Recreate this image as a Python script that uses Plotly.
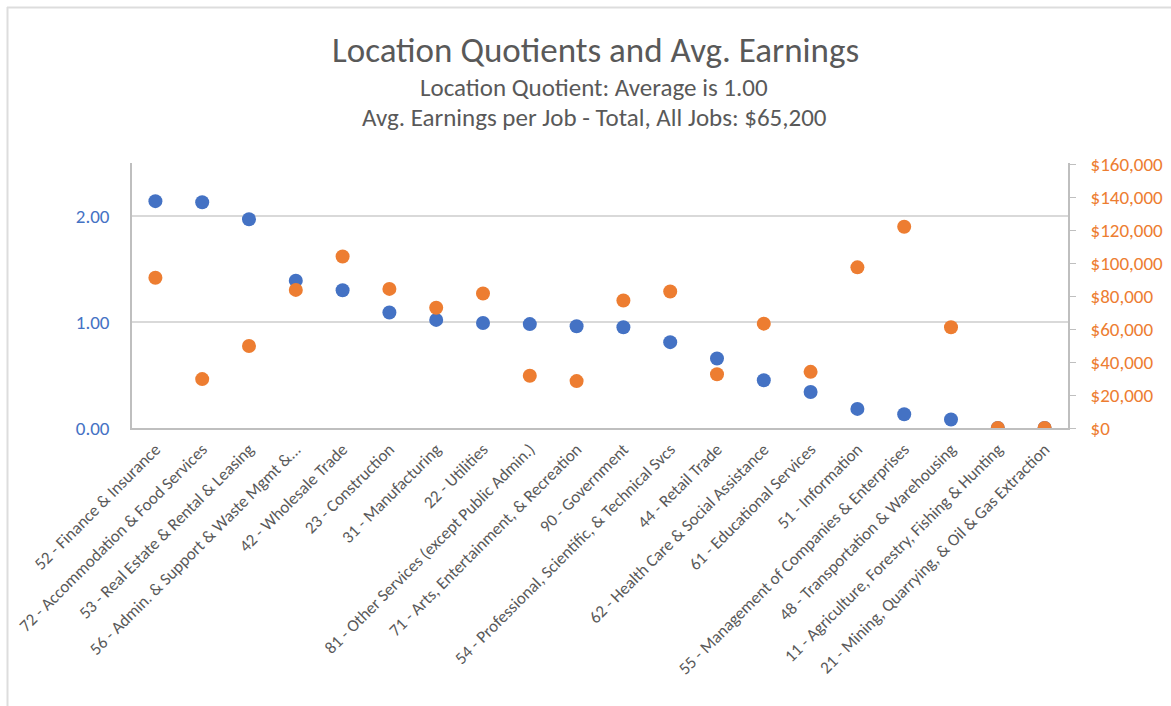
import plotly.graph_objects as go

categories = [
    "52 - Finance & Insurance",
    "72 - Accommodation & Food Services",
    "53 - Real Estate & Rental & Leasing",
    "56 - Admin. & Support & Waste Mgmt &...",
    "42 - Wholesale Trade",
    "23 - Construction",
    "31 - Manufacturing",
    "22 - Utilities",
    "81 - Other Services (except Public Admin.)",
    "71 - Arts, Entertainment, & Recreation",
    "90 - Government",
    "54 - Professional, Scientific, & Technical Svcs",
    "44 - Retail Trade",
    "62 - Health Care & Social Assistance",
    "61 - Educational Services",
    "51 - Information",
    "55 - Management of Companies & Enterprises",
    "48 - Transportation & Warehousing",
    "11 - Agriculture, Forestry, Fishing & Hunting",
    "21 - Mining, Quarrying, & Oil & Gas Extraction",
]
location_quotient = [2.14, 2.13, 1.97, 1.39, 1.30, 1.09, 1.02, 0.99, 0.98, 0.96,
                     0.95, 0.81, 0.655, 0.45, 0.34, 0.18, 0.13, 0.08, 0.0, 0.0]
avg_earnings = [91300, 29700, 49800, 83900, 104200, 84500, 73100, 81700, 31700, 28500,
                77500, 82900, 32700, 63400, 34100, 97600, 122300, 61200, 0, 0]

lq_ticks = [0, 1, 2]
earn_ticks = [0, 20000, 40000, 60000, 80000, 100000, 120000, 140000, 160000]
earn_tick_labels = ["$0", "$20,000", "$40,000", "$60,000", "$80,000",
                    "$100,000", "$120,000", "$140,000", "$160,000"]

title_lines = ["Location Quotients and Avg. Earnings",
               "Location Quotient: Average is 1.00",
               "Avg. Earnings per Job - Total, All Jobs: $65,200"]

BLUE = "#4472C4"
ORANGE = "#ED7D31"
GRAY = "#595959"
FONT = "Carlito, Calibri, Lato, sans-serif"

fig = go.Figure()
fig.add_trace(go.Scatter(x=categories, y=location_quotient, mode="markers",
                         marker=dict(color=BLUE, size=14), name="Location Quotient",
                         yaxis="y"))
fig.add_trace(go.Scatter(x=categories, y=avg_earnings, mode="markers",
                         marker=dict(color=ORANGE, size=14), name="Avg. Earnings",
                         yaxis="y2"))

L, R, T, B = 132, 103, 163, 278
W, H = 1171, 706
pw, ph = W - L - R, H - T - B

def py(pix):
    return (H - B - pix) / ph

def px(pix):
    return (pix - L) / pw

annotations = [
    dict(text=title_lines[0], x=px(595), y=py(50), font=dict(size=35, color=GRAY, family=FONT)),
    dict(text=title_lines[1], x=px(594), y=py(87), font=dict(size=25, color=GRAY, family=FONT)),
    dict(text=title_lines[2], x=px(594), y=py(117), font=dict(size=25, color=GRAY, family=FONT)),
]
for a in annotations:
    a.update(xref="paper", yref="paper", showarrow=False, xanchor="center", yanchor="middle")

fig.update_layout(
    width=W, height=H,
    margin=dict(l=L, r=R, t=T, b=B, autoexpand=False),
    paper_bgcolor="white", plot_bgcolor="white",
    showlegend=False,
    font=dict(family=FONT, color=GRAY),
    annotations=annotations,
    xaxis=dict(
        type="category", tickangle=-45, tickfont=dict(size=17, color=GRAY, family=FONT),
        showgrid=False, showline=True, linecolor="#BFBFBF", linewidth=1.5,
        ticks="", range=[-0.5, len(categories) - 0.5], zeroline=False,
        automargin=False, ticklabelstandoff=3,
    ),
    yaxis=dict(
        range=[0, 2.5], tickvals=lq_ticks, tickformat=".2f",
        tickfont=dict(size=19, color=BLUE, family=FONT),
        showgrid=True, gridcolor="#D9D9D9", gridwidth=1.5,
        showline=True, linecolor="#BFBFBF", linewidth=1.5, zeroline=False,
        ticks="", ticklabelstandoff=17, automargin=False,
    ),
    yaxis2=dict(
        range=[0, 161000], overlaying="y", side="right",
        tickvals=earn_ticks, ticktext=earn_tick_labels,
        tickfont=dict(size=19, color=ORANGE, family=FONT),
        showgrid=False, showline=True, linecolor="#BFBFBF", linewidth=1.5, zeroline=False,
        ticks="outside", ticklen=6, tickcolor="#BFBFBF", ticklabelstandoff=11,
        automargin=False,
    ),
    shapes=[
        dict(type="line", xref="paper", yref="paper", x0=px(7), x1=px(1175), y0=py(7.5), y1=py(7.5),
             line=dict(color="#DDDDDD", width=2)),
        dict(type="line", xref="paper", yref="paper", x0=px(7.5), x1=px(7.5), y0=py(7), y1=py(710),
             line=dict(color="#DDDDDD", width=2)),
    ],
)

fig.write_html("out.html", config={"displayModeBar": False},
               post_script="document.body.style.margin='0px';")
